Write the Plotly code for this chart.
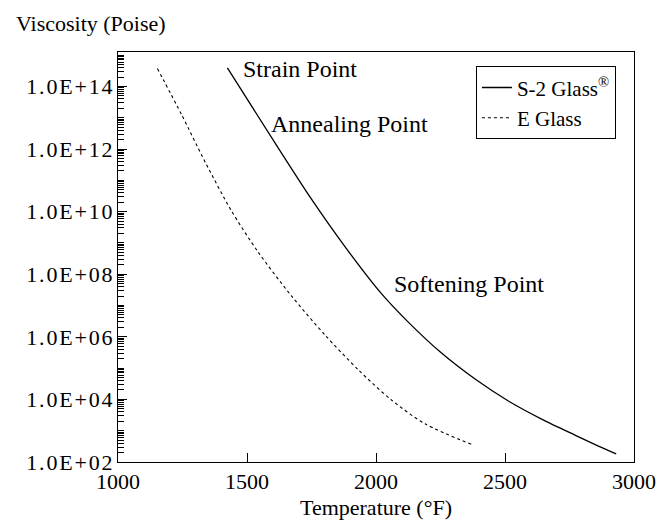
import plotly.graph_objects as go

# S-2 Glass viscosity curve (temperature in °F, log10 of viscosity in poise)
s2_temp = [1424, 1619, 1744, 1886, 2022, 2125, 2254, 2384, 2513, 2642, 2771, 2862, 2931]
s2_logvisc = [14.59, 12.06, 10.47, 8.81, 7.37, 6.47, 5.48, 4.65, 3.95, 3.37, 2.86, 2.51, 2.26]

# E Glass viscosity curve
e_temp = [1153, 1247, 1340, 1440, 1543, 1673, 1802, 1932, 2060, 2190, 2377]
e_logvisc = [14.57, 13.09, 11.55, 10.02, 8.71, 7.30, 6.06, 4.94, 3.98, 3.22, 2.54]

s2_visc = [10 ** v for v in s2_logvisc]
e_visc = [10 ** v for v in e_logvisc]

y_tickvals = [1e2, 1e4, 1e6, 1e8, 1e10, 1e12, 1e14]
y_ticktext = ["1.0E+02", "1.0E+04", "1.0E+06", "1.0E+08", "1.0E+10", "1.0E+12", "1.0E+14"]
x_tickvals = [1000, 1500, 2000, 2500, 3000]
x_ticktext = ["1000", "1500", "2000", "2500", "3000"]

labels = ["Strain Point", "Annealing Point", "Softening Point"]
label_x = [1488, 1597, 2074]
label_logy = [14.57, 12.80, 7.69]

FONT = "Liberation Serif"
HAIR = "\u200a"
y_ticktext_spaced = [HAIR.join(t) for t in y_ticktext]

fig = go.Figure()
fig.add_trace(go.Scatter(x=s2_temp, y=s2_visc, mode="lines", name="S-2 Glass<sup>®</sup>",
                         line=dict(color="black", width=1.3, shape="spline", smoothing=0.8)))
fig.add_trace(go.Scatter(x=e_temp, y=e_visc, mode="lines", name="E Glass",
                         line=dict(color="black", width=1.1, dash="dot", shape="spline", smoothing=0.8)))

for t, lx, ly in zip(labels, label_x, label_logy):
    fig.add_annotation(x=lx, y=ly, text=t, showarrow=False, xanchor="left", yanchor="middle",
                       xshift=-3, font=dict(family=FONT, size=24, color="black"))

fig.add_annotation(xref="paper", yref="paper", x=-0.198, y=1.0707, text="Viscosity (Poise)",
                   showarrow=False, xanchor="left", yanchor="middle", xshift=-2,
                   font=dict(family=FONT, size=22, color="black"))
fig.add_annotation(xref="x", yref="paper", x=2000, y=-0.112, text="Temperature (°F)",
                   showarrow=False, xanchor="center", yanchor="middle",
                   font=dict(family=FONT, size=22, color="black"))

fig.update_layout(
    width=667, height=521,
    margin=dict(l=110, r=41, t=44, b=67),
    paper_bgcolor="white", plot_bgcolor="white",
    font=dict(family=FONT, size=22, color="black"),
    showlegend=True,
    legend=dict(x=0.965, y=0.965, xanchor="right", yanchor="top",
                bordercolor="black", borderwidth=1, bgcolor="white",
                font=dict(family=FONT, size=21, color="black"),
                itemwidth=30, tracegroupgap=0),
)
fig.update_xaxes(range=[1000, 3000], tickmode="array", tickvals=x_tickvals, ticktext=x_ticktext,
                 ticks="inside", ticklen=9, tickcolor="black",
                 showline=True, linecolor="black", linewidth=1, mirror=True,
                 showgrid=False, zeroline=False,
                 tickfont=dict(family=FONT, size=22, color="black"))
fig.update_yaxes(type="log", range=[2, 15.1], tickmode="array", tickvals=y_tickvals,
                 ticktext=y_ticktext_spaced, ticks="inside", ticklen=9, tickcolor="black",
                 minor=dict(ticks="inside", ticklen=6, tickcolor="black", dtick="D1"),
                 showline=True, linecolor="black", linewidth=1, mirror=True,
                 showgrid=False, zeroline=False,
                 tickfont=dict(family=FONT, size=22, color="black"))

fig.write_html("out.html")
